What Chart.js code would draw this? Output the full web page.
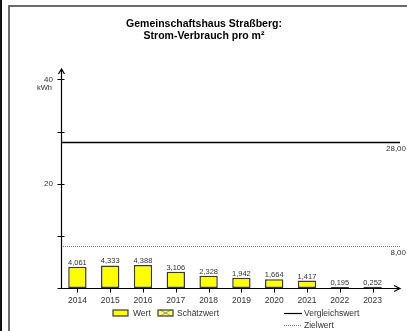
<!DOCTYPE html>
<html>
<head>
<meta charset="utf-8">
<script src="https://cdn.jsdelivr.net/npm/chart.js@4"></script>
<style>
html, body { margin: 0; padding: 0; background: #fff; }
#wrap { width: 407px; height: 331px; }
</style>
</head>
<body>
<div id="wrap"><canvas id="c" width="407" height="331"></canvas></div>
<script>
const years = ["2014", "2015", "2016", "2017", "2018", "2019", "2020", "2021", "2022", "2023"];
const values = [4.061, 4.333, 4.388, 3.106, 2.328, 1.942, 1.664, 1.417, 0.195, 0.252];
const vergleichswert = 28;
const zielwert = 8;
const yTicks = [0, 10, 20, 30, 40];
const yTickLabels = { 20: "20", 40: "40" };
const yUnit = "kWh";
const titleLines = ["Gemeinschaftshaus Straßberg:", "Strom-Verbrauch pro m²"];

const FONT = "Arial, 'Liberation Sans', sans-serif";
const fmt = (v, d) => v.toFixed(d).replace(".", ",");

const extras = {
    id: "extras",
    afterDraw(chart) {
        const ctx = chart.ctx;
        const area = chart.chartArea;
        const x = chart.scales.x;
        const y = chart.scales.y;
        const xEnd = 400;
        ctx.save();

        // frame
        ctx.fillStyle = "#111";
        ctx.fillRect(0, 0, 2, 331);
        ctx.strokeStyle = "#6a6a6a";
        ctx.lineWidth = 2;
        ctx.beginPath();
        ctx.moveTo(9, 331);
        ctx.lineTo(9, 6);
        ctx.lineTo(407, 6);
        ctx.stroke();

        // title
        ctx.fillStyle = "#000";
        ctx.font = "bold 10.5px " + FONT;
        ctx.textAlign = "center";
        ctx.textBaseline = "alphabetic";
        ctx.fillText(titleLines[0], 204, 26.5);
        ctx.fillText(titleLines[1], 204, 39);

        // reference lines
        const y28 = Math.round(y.getPixelForValue(vergleichswert)) + 0.5;
        ctx.strokeStyle = "#000";
        ctx.lineWidth = 1.3;
        ctx.beginPath();
        ctx.moveTo(area.left, y28);
        ctx.lineTo(xEnd, y28);
        ctx.stroke();
        const y8 = Math.round(y.getPixelForValue(zielwert)) + 0.5;
        ctx.strokeStyle = "#555";
        ctx.lineWidth = 0.8;
        ctx.setLineDash([1, 1]);
        ctx.beginPath();
        ctx.moveTo(area.left, y8);
        ctx.lineTo(xEnd, y8);
        ctx.stroke();
        ctx.setLineDash([]);

        ctx.fillStyle = "#333";
        ctx.font = "8px " + FONT;
        ctx.textAlign = "right";
        ctx.textBaseline = "middle";
        ctx.fillText(fmt(vergleichswert, 2), 406, y28 + 6);
        ctx.fillText(fmt(zielwert, 2), 406, y8 + 6);

        // axes
        ctx.strokeStyle = "#000";
        ctx.lineWidth = 1.2;
        const ax = Math.round(area.left) + 0.5;
        const ay = Math.round(area.bottom) + 0.5;
        ctx.beginPath();
        ctx.moveTo(ax, ay);
        ctx.lineTo(ax, area.top);
        ctx.moveTo(ax - 3, area.top + 5);
        ctx.lineTo(ax, area.top);
        ctx.lineTo(ax + 3, area.top + 5);
        ctx.moveTo(ax, ay);
        ctx.lineTo(xEnd, ay);
        ctx.moveTo(xEnd - 6, ay - 3);
        ctx.lineTo(xEnd, ay);
        ctx.lineTo(xEnd - 6, ay + 3);
        ctx.stroke();

        // tick marks
        ctx.lineWidth = 1;
        ctx.beginPath();
        yTicks.forEach((t) => {
            const py = Math.round(y.getPixelForValue(t)) + 0.5;
            ctx.moveTo(ax - 4, py);
            ctx.lineTo(ax + 3, py);
        });
        years.forEach((_, i) => {
            const px = Math.round(x.getPixelForValue(i)) + 0.5;
            ctx.moveTo(px, ay);
            ctx.lineTo(px, ay + 4);
        });
        ctx.stroke();

        // unit
        ctx.fillStyle = "#333";
        ctx.font = "7.5px " + FONT;
        ctx.textAlign = "right";
        ctx.textBaseline = "middle";
        ctx.fillText(yUnit, 52, y.getPixelForValue(40) + 8.5);

        // value labels
        const meta = chart.getDatasetMeta(0);
        ctx.font = "7.5px " + FONT;
        ctx.textAlign = "center";
        ctx.textBaseline = "alphabetic";
        meta.data.forEach((bar, i) => {
            ctx.fillText(fmt(values[i], 3), bar.x, bar.y - 2);
        });

        // legend
        ctx.font = "8.5px " + FONT;
        ctx.textAlign = "left";
        ctx.textBaseline = "middle";
        ctx.fillStyle = "#ffff00";
        ctx.fillRect(113, 310, 15, 6);
        ctx.strokeStyle = "#3a3a3a";
        ctx.lineWidth = 1.2;
        ctx.strokeRect(113, 310, 15, 6);
        ctx.fillStyle = "#333";
        ctx.fillText("Wert", 133, 313.5);

        ctx.fillStyle = "#ffff66";
        ctx.fillRect(158, 310, 15, 6);
        ctx.strokeStyle = "#888";
        ctx.lineWidth = 0.8;
        ctx.beginPath();
        ctx.moveTo(160, 310); ctx.lineTo(171, 316);
        ctx.moveTo(160, 316); ctx.lineTo(171, 310);
        ctx.stroke();
        ctx.strokeStyle = "#3a3a3a";
        ctx.lineWidth = 1.2;
        ctx.strokeRect(158, 310, 15, 6);
        ctx.fillStyle = "#333";
        ctx.fillText("Schätzwert", 177, 313.5);

        ctx.strokeStyle = "#000";
        ctx.lineWidth = 1.2;
        ctx.beginPath();
        ctx.moveTo(284, 313.5);
        ctx.lineTo(302, 313.5);
        ctx.stroke();
        ctx.fillText("Vergleichswert", 304, 313.5);

        ctx.strokeStyle = "#555";
        ctx.lineWidth = 0.8;
        ctx.setLineDash([1, 1]);
        ctx.beginPath();
        ctx.moveTo(284, 325.5);
        ctx.lineTo(302, 325.5);
        ctx.stroke();
        ctx.setLineDash([]);
        ctx.fillText("Zielwert", 304, 325.5);

        ctx.restore();
    }
};

new Chart(document.getElementById("c"), {
    type: "bar",
    data: {
        labels: years,
        datasets: [{
            data: values,
            backgroundColor: "#ffff00",
            borderColor: "#3a3a3a",
            borderWidth: 1.5,
            borderSkipped: false,
            barPercentage: 0.56,
            categoryPercentage: 1
        }]
    },
    options: {
        responsive: false,
        animation: false,
        devicePixelRatio: 1,
        layout: { padding: { left: 31, top: 69, right: 18, bottom: 23 } },
        plugins: {
            legend: { display: false },
            title: { display: false },
            tooltip: { enabled: false }
        },
        scales: {
            x: {
                offset: true,
                grid: { display: false, drawTicks: false },
                border: { display: false },
                ticks: {
                    padding: 8,
                    color: "#333",
                    font: { family: FONT, size: 8.5 }
                },
                afterFit: (scale) => { scale.height = 20; }
            },
            y: {
                min: 0,
                max: 42,
                grid: { display: false, drawTicks: false },
                border: { display: false },
                afterBuildTicks: (scale) => {
                    scale.ticks = yTicks.map((v) => ({ value: v }));
                },
                ticks: {
                    padding: 8,
                    color: "#333",
                    font: { family: FONT, size: 8 },
                    callback: (v) => yTickLabels[v] || ""
                },
                afterFit: (scale) => { scale.width = 30; }
            }
        }
    },
    plugins: [extras]
});
</script>
</body>
</html>
